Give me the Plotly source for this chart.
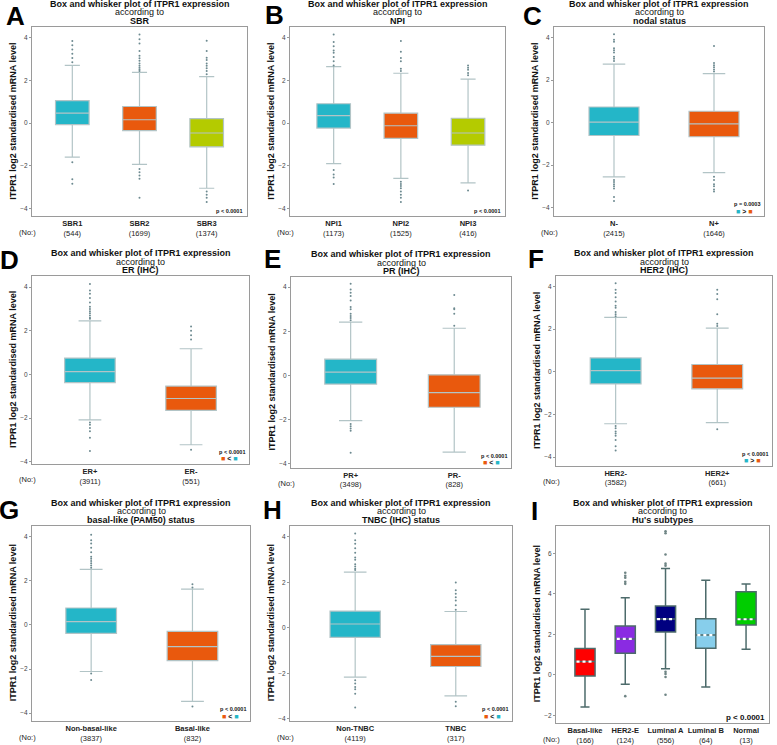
import plotly.graph_objs

# values (box stats + outlier dots)

# A - SBR
sbr_groups = ["SBR1", "SBR2", "SBR3"]
sbr_counts = [544, 1699, 1374]
sbr_lower = [-1.59, -1.93, -3.05]
sbr_q1 = [-0.07, -0.35, -1.11]
sbr_median = [0.47, 0.16, -0.46]
sbr_q3 = [1.06, 0.78, 0.21]
sbr_upper = [2.71, 2.38, 2.18]
sbr_outliers = [[2.85, 3.05, 3.25, 3.45, 3.65, 3.85, -1.83, -2.63, -2.84],
                [2.44, 2.52, 2.6, 2.69, 2.8, 2.92, 3.04, 3.16, 3.38, 3.73, 3.93, 4.15,
                 -2.15, -2.3, -2.45, -2.6, -3.5],
                [2.29, 2.45, 2.57, 2.69, 2.8, 2.96, 3.06, 3.38, 3.86, -3.2, -3.35, -3.5, -3.7]]

# B - NPI
npi_groups = ["NPI1", "NPI2", "NPI3"]
npi_counts = [1173, 1525, 416]
npi_lower = [-1.9, -2.59, -2.8]
npi_q1 = [-0.23, -0.71, -1.03]
npi_median = [0.35, -0.12, -0.46]
npi_q3 = [0.91, 0.47, 0.23]
npi_upper = [2.65, 2.34, 2.06]
npi_outliers = [[2.7, 2.9, 3.1, 3.3, 3.4, 3.6, 3.8, 4.15, -2.2, -2.4, -2.55, -2.85],
                [2.45, 2.55, 2.9, 3.05, 3.35, 3.85, -2.75, -2.85, -2.95, -3.05, -3.2, -3.35, -3.5, -3.7],
                [2.25, 2.35, 2.5, 2.6, 2.7, -3.15]]

# C - nodal status
nodal_groups = ["N-", "N+"]
nodal_counts = [2415, 1646]
nodal_lower = [-2.56, -2.36]
nodal_q1 = [-0.61, -0.67]
nodal_median = [0.02, -0.06]
nodal_q3 = [0.73, 0.53]
nodal_upper = [2.75, 2.3]
nodal_outliers = [[2.9, 3.0, 3.1, 3.3, 3.4, 3.5, 3.8, 3.9, 4.15, -2.7, -2.8, -2.9, -3.0, -3.1, -3.5, -3.7],
                  [2.4, 2.5, 2.6, 2.7, 2.8, 3.6, -2.55, -2.7, -2.9, -3.0, -3.15, -3.25]]

# D - ER (IHC)
er_groups = ["ER+", "ER-"]
er_counts = [3911, 551]
er_lower = [-2.08, -3.22]
er_q1 = [-0.37, -1.64]
er_median = [0.13, -1.1]
er_q3 = [0.75, -0.53]
er_upper = [2.46, 1.18]
er_outliers = [[2.55, 2.6, 2.7, 2.8, 2.9, 3.0, 3.1, 3.3, 3.5, 3.7, 3.85, 4.15,
                -2.2, -2.3, -2.45, -2.6, -2.9, -3.5],
               [1.6, 1.8, 2.0, 2.2, -3.45]]

# E - PR (IHC)
pr_groups = ["PR+", "PR-"]
pr_counts = [3498, 828]
pr_lower = [-2.05, -3.47]
pr_q1 = [-0.39, -1.44]
pr_median = [0.15, -0.78]
pr_q3 = [0.74, 0.03]
pr_upper = [2.42, 2.14]
pr_outliers = [[2.5, 2.6, 2.7, 2.8, 3.0, 3.1, 3.4, 3.6, 3.75, 3.9, 4.15, -2.2, -2.3, -2.4, -2.5, -3.5],
               [2.25, 2.8, 3.0, 3.05, 3.65]]

# F - HER2 (IHC)
her2_groups = ["HER2-", "HER2+"]
her2_counts = [3582, 661]
her2_lower = [-2.44, -2.39]
her2_q1 = [-0.57, -0.8]
her2_median = [0.05, -0.3]
her2_q3 = [0.65, 0.34]
her2_upper = [2.55, 2.05]
her2_outliers = [[2.6, 2.7, 2.8, 3.0, 3.1, 3.3, 3.5, 3.7, 3.85, 4.15,
                  -2.55, -2.65, -2.8, -2.9, -3.0, -3.2, -3.5, -3.7],
                 [2.15, 2.25, 2.7, 3.4, 3.65, 3.85, -2.7]]

# G - basal-like (PAM50) status
basal_groups = ["Non-basal-like", "Basal-like"]
basal_counts = [3837, 832]
basal_lower = [-2.11, -3.47]
basal_q1 = [-0.38, -1.62]
basal_median = [0.15, -0.98]
basal_q3 = [0.77, -0.29]
basal_upper = [2.52, 1.63]
basal_outliers = [[2.6, 2.7, 2.8, 2.9, 3.0, 3.1, 3.3, 3.5, 3.7, 3.85, 4.1, -2.2, -2.5],
                  [1.7, 1.85, -3.7]]

# H - TNBC (IHC) status
tnbc_groups = ["Non-TNBC", "TNBC"]
tnbc_counts = [4119, 317]
tnbc_lower = [-2.17, -2.99]
tnbc_q1 = [-0.42, -1.7]
tnbc_median = [0.17, -1.25]
tnbc_q3 = [0.74, -0.74]
tnbc_upper = [2.45, 0.72]
tnbc_outliers = [[2.55, 2.6, 2.7, 2.8, 3.0, 3.1, 3.3, 3.5, 3.7, 3.85, 4.15,
                  -2.3, -2.45, -2.6, -2.7, -2.9, -3.5],
                 [0.8, 1.0, 1.2, 1.35, 1.5, 1.65, 2.0, -3.25, -3.45]]

# I - Hu's subtypes
hu_groups = ["Basal-like", "HER2-E", "Luminal A", "Luminal B", "Normal"]
hu_counts = [166, 124, 556, 64, 13]
hu_lower = [-1.59, -0.46, 0.3, -0.6, 1.27]
hu_q1 = [-0.05, 1.07, 2.12, 1.32, 2.47]
hu_median = [0.66, 1.78, 2.76, 1.97, 2.75]
hu_q3 = [1.3, 2.42, 3.4, 2.78, 4.11]
hu_upper = [3.24, 3.81, 5.26, 4.68, 4.49]
hu_outliers = [[],
               [4.5, 4.6, 4.8, 4.9, 5.05, -1.05],
               [5.4, 5.5, 5.95, 7.0, 7.1, 0.15, 0.05, -0.1, -0.98],
               [],
               []]

p_values = ["p < 0.0001", "p < 0.0001", "p = 0.0003", "p < 0.0001", "p < 0.0001",
            "p < 0.0001", "p < 0.0001", "p < 0.0001", "p < 0.0001"]

# colours
cyan = "#24b6c8"
orange = "#e9590d"
lime = "#b4cb00"
hu_colors = ["#ff0000", "#8a2be2", "#000080", "#87ceeb", "#00cd00"]

W = 777
H = 745
FONT = "Liberation Sans, Arial, sans-serif"


def px(x):
    return x / W


def py(y):
    return 1 - y / H


# layout of each panel: letter, subject, frame (left, right, top, bottom px), x range, y range,
# letter position, order legend (left colour, sign, right colour)
panels = [
    dict(letter="A", subject="SBR", groups=sbr_groups, counts=sbr_counts, lower=sbr_lower, q1=sbr_q1,
         median=sbr_median, q3=sbr_q3, upper=sbr_upper, outliers=sbr_outliers, colors=[cyan, orange, lime],
         frame=(32, 247, 27, 217), xr=[-0.6, 2.6], yr=[-4.37, 4.51], lpos=(15, 16), order=None),
    dict(letter="B", subject="NPI", groups=npi_groups, counts=npi_counts, lower=npi_lower, q1=npi_q1,
         median=npi_median, q3=npi_q3, upper=npi_upper, outliers=npi_outliers, colors=[cyan, orange, lime],
         frame=(290, 505, 27, 217), xr=[-0.65, 2.55], yr=[-4.37, 4.51], lpos=(274, 15), order=None),
    dict(letter="C", subject="nodal status", groups=nodal_groups, counts=nodal_counts, lower=nodal_lower,
         q1=nodal_q1, median=nodal_median, q3=nodal_q3, upper=nodal_upper, outliers=nodal_outliers,
         colors=[cyan, orange], frame=(554, 764, 27, 217), xr=[-0.6, 1.5], yr=[-4.42, 4.5], lpos=(532, 16),
         order=(cyan, ">", orange)),
    dict(letter="D", subject="ER (IHC)", groups=er_groups, counts=er_counts, lower=er_lower, q1=er_q1,
         median=er_median, q3=er_q3, upper=er_upper, outliers=er_outliers, colors=[cyan, orange],
         frame=(32, 249, 277, 465), xr=[-0.573, 1.573], yr=[-4.09, 4.5], lpos=(9, 261),
         order=(orange, "<", cyan)),
    dict(letter="E", subject="PR (IHC)", groups=pr_groups, counts=pr_counts, lower=pr_lower, q1=pr_q1,
         median=pr_median, q3=pr_q3, upper=pr_upper, outliers=pr_outliers, colors=[cyan, orange],
         frame=(291, 511, 278, 469), xr=[-0.576, 1.548], yr=[-4.18, 4.45], lpos=(272, 260),
         order=(orange, "<", cyan)),
    dict(letter="F", subject="HER2 (IHC)", groups=her2_groups, counts=her2_counts, lower=her2_lower,
         q1=her2_q1, median=her2_median, q3=her2_q3, upper=her2_upper, outliers=her2_outliers,
         colors=[cyan, orange], frame=(556, 772, 277, 467), xr=[-0.587, 1.539], yr=[-4.41, 4.48],
         lpos=(536, 260), order=(cyan, ">", orange)),
    dict(letter="G", subject="basal-like (PAM50) status", groups=basal_groups, counts=basal_counts,
         lower=basal_lower, q1=basal_q1, median=basal_median, q3=basal_q3, upper=basal_upper,
         outliers=basal_outliers, colors=[cyan, orange], frame=(32, 250, 527, 723), xr=[-0.584, 1.568],
         yr=[-4.36, 4.51], lpos=(9, 511), order=(orange, "<", cyan)),
    dict(letter="H", subject="TNBC (IHC) status", groups=tnbc_groups, counts=tnbc_counts, lower=tnbc_lower,
         q1=tnbc_q1, median=tnbc_median, q3=tnbc_q3, upper=tnbc_upper, outliers=tnbc_outliers,
         colors=[cyan, orange], frame=(290, 512, 527, 723), xr=[-0.648, 1.559], yr=[-4.1, 4.5],
         lpos=(272, 511), order=(orange, "<", cyan)),
    dict(letter="I", subject="Hu's subtypes", groups=hu_groups, counts=hu_counts, lower=hu_lower, q1=hu_q1,
         median=hu_median, q3=hu_q3, upper=hu_upper, outliers=hu_outliers, colors=hu_colors,
         frame=(556, 769, 527, 725), xr=[-0.72, 4.57], yr=[-2.38, 7.38], lpos=(534, 512), order=None),
]

fig = plotly.graph_objs.Figure()
annotations = []
box_width = 0.5

for k, p in enumerate(panels, start=1):
    left, right, top, bottom = p["frame"]
    xa = "x" if k == 1 else "x%d" % k
    ya = "y" if k == 1 else "y%d" % k
    hu = p["letter"] == "I"
    edge = "#4d6b6b" if hu else "#b2c4c6"
    dot = "#6f8585" if hu else "#6d8a90"

    for i, g in enumerate(p["groups"]):
        fig.add_trace(plotly.graph_objs.Box(
            x=[i], q1=[p["q1"][i]], median=[p["median"][i]], q3=[p["q3"][i]],
            lowerfence=[p["lower"][i]], upperfence=[p["upper"][i]],
            width=box_width, whiskerwidth=0.45, fillcolor=p["colors"][i],
            line=dict(color=edge, width=1.5 if hu else 1.2), boxpoints=False,
            xaxis=xa, yaxis=ya, showlegend=False, hoverinfo="skip"))
        if p["outliers"][i]:
            fig.add_trace(plotly.graph_objs.Scatter(
                x=[i] * len(p["outliers"][i]), y=p["outliers"][i], mode="markers",
                marker=dict(size=2.6 if hu else 2.0, color=dot), xaxis=xa, yaxis=ya,
                showlegend=False, hoverinfo="skip"))
        if hu:
            # white dotted median line as in the Hu's subtypes panel
            fig.add_trace(plotly.graph_objs.Scatter(
                x=[i - box_width / 2 + 0.04, i + box_width / 2 - 0.04],
                y=[p["median"][i], p["median"][i]], mode="lines",
                line=dict(color="white", width=2.2, dash="dot"),
                xaxis=xa, yaxis=ya, showlegend=False, hoverinfo="skip"))

    ticktext = ["<b>%s</b><br>(%d)" % (g, c) for g, c in zip(p["groups"], p["counts"])]
    fig.layout["xaxis" if k == 1 else "xaxis%d" % k] = dict(
        domain=[px(left), px(right)], anchor=ya, range=p["xr"], tickmode="array",
        tickvals=list(range(len(p["groups"]))), ticktext=ticktext,
        tickfont=dict(size=7.5, color="#222222", family=FONT), showgrid=False, zeroline=False,
        showline=True, mirror=True, linecolor="#9a9a9a", linewidth=1, ticks="", fixedrange=True)
    fig.layout["yaxis" if k == 1 else "yaxis%d" % k] = dict(
        domain=[py(bottom), py(top)], anchor=xa, range=p["yr"],
        tickvals=[-2, 0, 2, 4, 6] if hu else [-4, -2, 0, 2, 4],
        tickfont=dict(size=6.5, color="#444444", family=FONT), showgrid=False, zeroline=False,
        showline=True, mirror=True, linecolor="#9a9a9a", linewidth=1,
        ticks="outside", ticklen=2, tickcolor="#9a9a9a", fixedrange=True)

    cx = (left + right) / 2
    # three title lines
    for text, dy in [("<b>Box and whisker plot of ITPR1 expression</b>", 23),
                     ("according to", 14.5),
                     ("<b>%s</b>" % p["subject"], 6)]:
        annotations.append(dict(text=text, x=px(cx), y=py(top - dy), xref="paper", yref="paper",
                                xanchor="center", yanchor="middle", showarrow=False, borderpad=0,
                                font=dict(size=9, color="#111111", family=FONT)))
    # panel letter
    annotations.append(dict(text="<b>%s</b>" % p["letter"], x=px(p["lpos"][0]), y=py(p["lpos"][1]),
                            xref="paper", yref="paper", xanchor="center", yanchor="middle",
                            showarrow=False, font=dict(size=26, color="black", family=FONT)))
    # y axis title
    annotations.append(dict(text="<b>ITPR1 log2 standardised mRNA level</b>", x=px(left - 19),
                            y=py((top + bottom) / 2), xref="paper", yref="paper", textangle=-90,
                            xanchor="center", yanchor="middle", showarrow=False,
                            font=dict(size=9, color="#111111", family=FONT)))
    # (No:) label
    annotations.append(dict(text="(No:)", x=px(left - 5), y=py(bottom + 16), xref="paper", yref="paper",
                            xanchor="center", yanchor="middle", showarrow=False,
                            font=dict(size=7.5, color="#222222", family=FONT)))
    # p-value and order legend
    if hu:
        annotations.append(dict(text="<b>%s</b>" % p_values[k - 1], x=px(right - 2), y=py(bottom - 6),
                                xref="paper", yref="paper", xanchor="right", yanchor="middle",
                                showarrow=False, font=dict(size=8, color="#111111", family=FONT)))
    elif p["order"] is None:
        annotations.append(dict(text="<b>%s</b>" % p_values[k - 1], x=px(right - 3), y=py(bottom - 5),
                                xref="paper", yref="paper", xanchor="right", yanchor="middle",
                                showarrow=False, font=dict(size=5.5, color="#111111", family=FONT)))
    else:
        annotations.append(dict(text="<b>%s</b>" % p_values[k - 1], x=px(right - 3), y=py(bottom - 12),
                                xref="paper", yref="paper", xanchor="right", yanchor="middle",
                                showarrow=False, borderpad=0,
                                font=dict(size=5.5, color="#111111", family=FONT)))
        c1, sign, c2 = p["order"]
        legend_text = ('<span style="color:%s">■</span><b> %s </b><span style="color:%s">■</span>'
                       % (c1, sign, c2))
        annotations.append(dict(text=legend_text, x=px(right - 29), y=py(bottom - 5),
                                xref="paper", yref="paper", xanchor="left", yanchor="middle",
                                showarrow=False, borderpad=0,
                                font=dict(size=7, color="#111111", family=FONT)))

fig.update_layout(width=W, height=H, margin=dict(l=0, r=0, t=0, b=0),
                  paper_bgcolor="white", plot_bgcolor="white", showlegend=False,
                  annotations=annotations, font=dict(family=FONT))

# the page has a default body margin; drop it so the figure sits at the window corner
fig.write_html("out.html", config={"displayModeBar": False},
               post_script="document.body.style.margin='0';")
